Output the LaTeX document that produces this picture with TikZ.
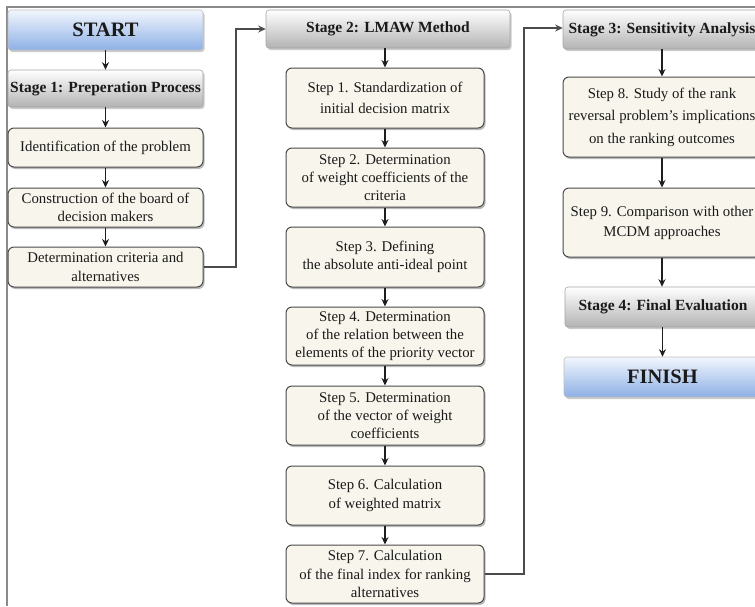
\documentclass[tikz,border=0pt]{standalone}
\usepackage{fontspec}
\setmainfont{Liberation Serif}
\usetikzlibrary{arrows.meta,shadows}
\definecolor{cream}{HTML}{F8F5EC}
\definecolor{boxline}{HTML}{4A4A4A}
\definecolor{bluebot}{HTML}{8DB0E6}
\definecolor{bluetop}{HTML}{F2F6FD}
\definecolor{graybot}{HTML}{B3B3B3}
\definecolor{frameline}{HTML}{8A8A8A}
\definecolor{arr}{HTML}{1E1E1E}
\definecolor{txt}{HTML}{1A1A1A}
\tikzset{
  base/.style={inner sep=0pt, align=center, text=txt, font=\fontsize{14.8}{18.3}\selectfont},
  stepbox/.style={base, draw=boxline, line width=1pt, fill=cream, rounded corners=6pt,
     drop shadow={shadow xshift=1.5pt, shadow yshift=-2pt, fill=black!45, opacity=0.6}},
  stagebox/.style={base, draw=black!35, line width=0.6pt, rounded corners=3pt,
     top color=white, bottom color=graybot, font=\fontsize{15.5}{18}\selectfont\bfseries,
     drop shadow={shadow xshift=1.5pt, shadow yshift=-2pt, fill=black!40, opacity=0.5}},
  endbox/.style={base, draw=black!25, line width=0.6pt, rounded corners=3pt,
     top color=bluetop, bottom color=bluebot, font=\fontsize{20.5}{24}\selectfont\bfseries,
     drop shadow={shadow xshift=1.5pt, shadow yshift=-2pt, fill=black!40, opacity=0.5}},
  flow/.style={draw=arr, line width=1.1pt, -{Stealth[length=7.5pt,width=7pt]}},
  link/.style={draw=black!70, line width=1.1pt, -{Stealth[length=7.5pt,width=7pt]}},
}
\begin{document}
\begin{tikzpicture}[x=1pt,y=-1pt]
\clip (0,0) rectangle (755,606);
\fill[white] (0,0) rectangle (755,606);
\draw[frameline, line width=1.4pt] (7,606) -- (7,7) -- (755,7);

% column 1
\node[endbox, minimum width=195pt, minimum height=40pt] (start) at (105.5,30) {START};
\node[stagebox, minimum width=195pt, minimum height=37pt] (s1) at (105.5,88.5) {Stage 1: Preperation Process};
\node[stepbox, minimum width=195pt, minimum height=39pt] (id) at (105.5,147.5) {Identification of the problem};
\node[stepbox, minimum width=195pt, minimum height=39pt] (cons) at (105.5,207.5) {Construction of the board of\\decision makers};
\node[stepbox, minimum width=195pt, minimum height=40pt] (crit) at (105.5,267) {Determination criteria and\\alternatives};

% column 2
\node[stagebox, minimum width=244pt, minimum height=38pt] (s2) at (388,29) {Stage 2: LMAW Method};
\node[stepbox, minimum width=198pt, minimum height=60pt] (p1) at (385,98) {Step 1. Standardization of\\[3pt]initial decision matrix};
\node[stepbox, minimum width=198pt, minimum height=59pt] (p2) at (385,177.5) {Step 2. Determination\\of weight coefficients of the\\criteria};
\node[stepbox, minimum width=198pt, minimum height=60pt] (p3) at (385,257) {Step 3. Defining\\the absolute anti-ideal point};
\node[stepbox, minimum width=198pt, minimum height=58pt] (p4) at (385,336) {Step 4. Determination\\of the relation between the\\elements of the priority vector};
\node[stepbox, minimum width=198pt, minimum height=59pt] (p5) at (385,415.5) {Step 5. Determination\\of the vector of weight\\coefficients};
\node[stepbox, minimum width=198pt, minimum height=59pt] (p6) at (385,495.5) {Step 6. Calculation\\of weighted matrix};
\node[stepbox, minimum width=198pt, minimum height=58pt] (p7) at (385,574) {Step 7. Calculation\\of the final index for ranking\\alternatives};

% column 3
\node[stagebox, minimum width=198pt, minimum height=39pt] (s3) at (662,29.5) {Stage 3: Sensitivity Analysis};
\node[stepbox, minimum width=198pt, minimum height=80pt, font=\fontsize{14.8}{22.5}\selectfont] (p8) at (662,117) {Step 8. Study of the rank\\reversal problem's implications\\on the ranking outcomes};
\node[stepbox, minimum width=198pt, minimum height=69pt, font=\fontsize{14.8}{20}\selectfont] (p9) at (662,222.5) {Step 9. Comparison with other\\MCDM approaches};
\node[stagebox, minimum width=196pt, minimum height=40pt] (s4) at (663,307) {Stage 4: Final Evaluation};
\node[endbox, minimum width=197pt, minimum height=40pt] (fin) at (662.5,377) {FINISH};

% flow arrows
\draw[flow] (start.south) -- (s1.north);
\draw[flow] (s1.south) -- (id.north);
\draw[flow] (id.south) -- (cons.north);
\draw[flow] (cons.south) -- (crit.north);
\draw[flow] (s2.south -| p1.north) -- (p1.north);
\draw[flow] (p1) -- (p2);
\draw[flow] (p2) -- (p3);
\draw[flow] (p3) -- (p4);
\draw[flow] (p4) -- (p5);
\draw[flow] (p5) -- (p6);
\draw[flow] (p6) -- (p7);
\draw[flow] (s3.south -| p8.north) -- (p8.north);
\draw[flow] (p8) -- (p9);
\draw[flow] (p9.south) -- (p9.south |- s4.north);
\draw[flow] (s4.south -| fin.north) -- (fin.north);

% links between stages
\coordinate (k1) at (236,267);
\coordinate (k2) at (236,29);
\draw[link] (crit.east) -- (k1) -- (k2) -- (s2.west);
\coordinate (k3) at (524,574);
\coordinate (k4) at (524,28);
\draw[link] (p7.east) -- (k3) -- (k4) -- (k4 -| s3.west);
\end{tikzpicture}
\end{document}
